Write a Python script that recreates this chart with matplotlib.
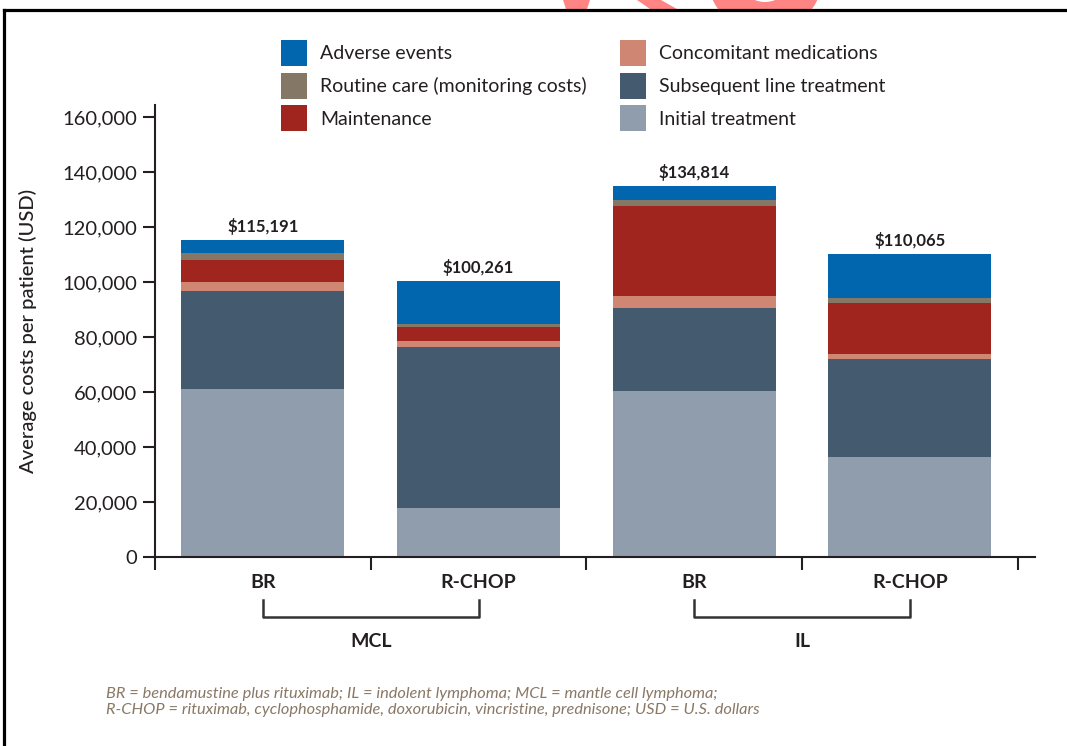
import matplotlib
matplotlib.use("Agg")
import matplotlib.pyplot as plt
import numpy as np
from matplotlib.ticker import StrMethodFormatter
from matplotlib.lines import Line2D
from matplotlib.patches import Polygon, Wedge
from matplotlib.transforms import Affine2D, Bbox

plt.rcParams['font.family'] = ['Lato', 'DejaVu Sans']

# data
bars = ['BR', 'R-CHOP', 'BR', 'R-CHOP']
groups = ['MCL', 'IL']
totals = ['$115,191', '$100,261', '$134,814', '$110,065']

initial = [61200, 17900, 60400, 36500]
subsequent = [35500, 58400, 30200, 35500]
concomitant = [3200, 2100, 4200, 1800]
maintenance = [8100, 5200, 33000, 18500]
routine = [2700, 1100, 2200, 1800]
adverse = [4491, 15561, 4814, 15965]

segments = [
    ('Initial treatment', initial, '#8f9dad'),
    ('Subsequent line treatment', subsequent, '#445a6f'),
    ('Concomitant medications', concomitant, '#cf8673'),
    ('Maintenance', maintenance, '#a0251f'),
    ('Routine care (monitoring costs)', routine, '#857766'),
    ('Adverse events', adverse, '#0266ae'),
]

W, H = 1067, 746
txt = '#231f20'

fig = plt.figure(figsize=(W / 100, H / 100), dpi=100)
ax = fig.add_axes([155 / W, 1 - 557 / H, 880 / W, 452 / H])

x = np.arange(len(bars))
bottom = np.zeros(len(bars))
handles = {}
for name, vals, col in segments:
    b = ax.bar(x, vals, 0.755, bottom=bottom, color=col, linewidth=0)
    handles[name] = b
    bottom += np.array(vals)

for xi, top, lab in zip(x, bottom, totals):
    ax.annotate(lab, (xi, top), xytext=(0, 4), textcoords='offset points',
                ha='center', va='bottom', fontsize=12, fontweight='bold', color=txt)

ax.set_xlim(-0.5, 3.58)
ax.set_ylim(0, 164400)
ax.set_yticks(np.arange(0, 160001, 20000))
ax.yaxis.set_major_formatter(StrMethodFormatter('{x:,.0f}'))
ax.tick_params(axis='y', direction='out', length=9, width=1.5, pad=4,
               labelsize=14.5, colors=txt)

ax.set_xticks(np.arange(-0.5, 3.6, 1.0))
ax.set_xticklabels([])
ax.set_xticks(x, minor=True)
ax.set_xticklabels(bars, minor=True, fontsize=14, fontweight='bold', color=txt)
ax.tick_params(axis='x', which='major', direction='out', length=9, width=1.5, colors=txt)
ax.tick_params(axis='x', which='minor', length=0, pad=12)

for s in ['top', 'right']:
    ax.spines[s].set_visible(False)
for s in ['left', 'bottom']:
    ax.spines[s].set_linewidth(1.5)
    ax.spines[s].set_color(txt)

ax.set_ylabel('Average costs per patient (USD)', fontsize=14.5, fontweight='medium', color=txt)
ax.yaxis.set_label_coords(-0.134, 0.5)

# group brackets
trans = ax.get_xaxis_transform()
for gi, g in enumerate(groups):
    a, b = x[2 * gi], x[2 * gi + 1]
    ax.plot([a, a, b, b], [-0.095, -0.133, -0.133, -0.095], color='#333333',
            lw=1.8, transform=trans, clip_on=False)
    ax.text((a + b) / 2, -0.188, g, transform=trans, ha='center', va='center',
            fontsize=14, fontweight='bold', color=txt)

order = ['Adverse events', 'Routine care (monitoring costs)', 'Maintenance',
         'Concomitant medications', 'Subsequent line treatment', 'Initial treatment']
fig.legend([handles[k] for k in order], order, ncol=2, frameon=False,
           loc='upper left', bbox_to_anchor=(281 / W, 1 - 40 / H),
           borderpad=0, borderaxespad=0, fontsize=14,
           handlelength=1.34, handleheight=1.685, handletextpad=0.67,
           labelspacing=0.335, columnspacing=1.7, labelcolor=txt)

fig.text(106 / W, 1 - 687 / H,
         'BR = bendamustine plus rituximab; IL = indolent lymphoma; MCL = mantle cell lymphoma;\n'
         'R-CHOP = rituximab, cyclophosphamide, doxorubicin, vincristine, prednisone; USD = U.S. dollars',
         fontsize=11.8, style='italic', color='#8a7866', va='top', ha='left', linespacing=1.2)

# frame and watermark (pixel coords from top-left)
px = Affine2D().scale(1 / W, 1 / H) + fig.transFigure
fig.add_artist(Line2D([4, 4], [0, H - 9.5], color='black', lw=2.3, transform=px))
fig.add_artist(Line2D([4, W], [H - 9.5, H - 9.5], color='black', lw=2.3, transform=px))
clip = Bbox([[0, H - 9.5], [W, H]])
red = '#ff8585'
shapes = [
    Polygon([(563, H), (590, H), (587, H - 9), (566, H - 9)], closed=True, color=red, lw=0, transform=px),
    Polygon([(637, H), (661, H), (677, H - 9), (650, H - 9)], closed=True, color=red, lw=0, transform=px),
    Wedge((765, H + 25), 58, 180, 360, width=31, color=red, lw=0, transform=px),
]
for sh in shapes:
    fig.add_artist(sh)
    sh.set_clip_box(clip)

fig.savefig('out.png', dpi=100, facecolor='white')
